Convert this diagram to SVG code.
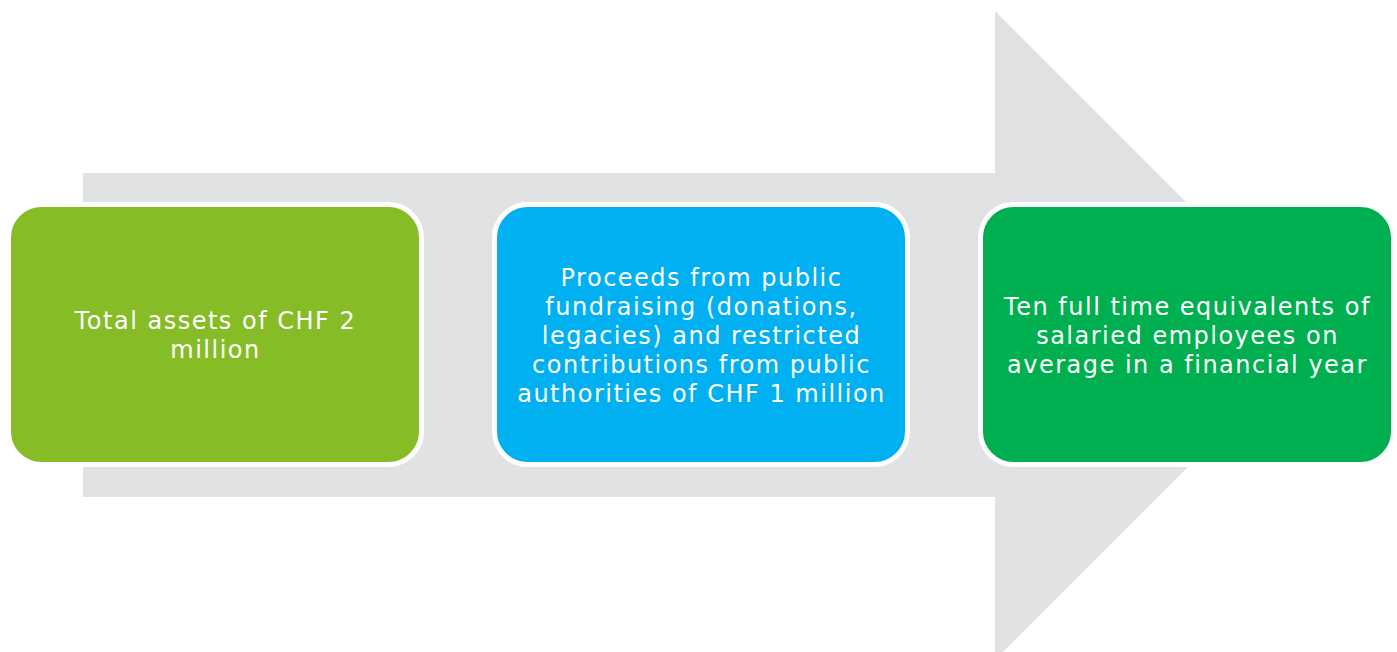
<svg xmlns="http://www.w3.org/2000/svg" width="1397" height="652" viewBox="0 0 1397 652">
<style>
.box{stroke:#FFFFFF;stroke-width:5}
.t{font-family:"DejaVu Sans",Verdana,sans-serif;font-size:24px;letter-spacing:1.5px;fill:#FFFFFF;text-anchor:middle}
</style>
<rect width="1397" height="652" fill="#FFFFFF"/>
<g id="connectors">
<path d="M83,173 H995 V11 L1319.5,335.5 L995,660 V497 H83 Z" fill="#E1E2E4"/>
</g>
<g id="node1">
<rect class="box" x="8.5" y="204.5" width="413" height="260" rx="33" fill="#86BC25"/>
<text class="t" x="215.5" y="329">Total assets of CHF 2</text>
<text class="t" x="215.5" y="358">million</text>
</g>
<g id="node2">
<rect class="box" x="494.5" y="204.5" width="413" height="260" rx="33" fill="#00B0F0"/>
<text class="t" x="701.5" y="286">Proceeds from public</text>
<text class="t" x="701.5" y="315">fundraising (donations,</text>
<text class="t" x="701.5" y="344">legacies) and restricted</text>
<text class="t" x="701.5" y="373">contributions from public</text>
<text class="t" x="701.5" y="402">authorities of CHF 1 million</text>
</g>
<g id="node3">
<rect class="box" x="980.5" y="204.5" width="413" height="260" rx="33" fill="#00B050"/>
<text class="t" x="1187.5" y="315">Ten full time equivalents of</text>
<text class="t" x="1187.5" y="344">salaried employees on</text>
<text class="t" x="1187.5" y="373">average in a financial year</text>
</g>
</svg>
